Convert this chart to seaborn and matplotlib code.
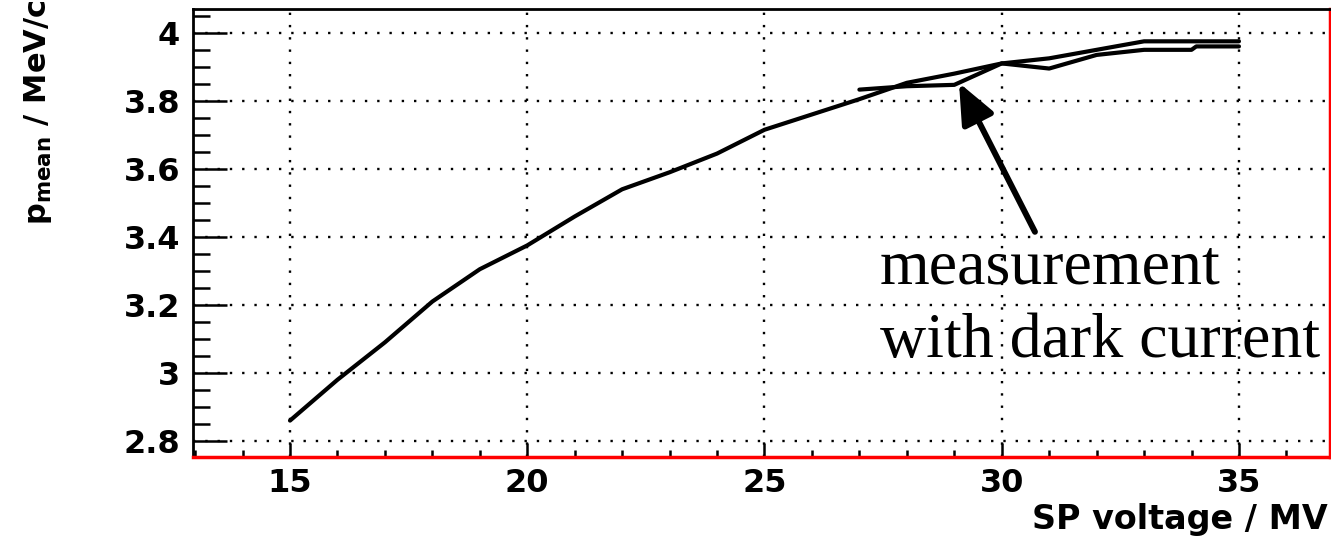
import matplotlib
matplotlib.use('Agg')
from matplotlib import pyplot as plt
from matplotlib.ticker import MultipleLocator, FuncFormatter
import pandas as pd
import seaborn as sns

# SP voltage scan, mean momentum
voltage = [15, 16, 17, 18, 19, 20, 21, 22, 23, 24, 25,
           26, 27, 28, 29, 30, 31, 32, 33, 34, 35]
p_mean = [2.86, 2.98, 3.09, 3.21, 3.305, 3.375, 3.46, 3.54, 3.59, 3.645, 3.715,
          3.76, 3.805, 3.853, 3.88, 3.91, 3.925, 3.95, 3.975, 3.975, 3.975]

# second scan, measurement with dark current
voltage_dark = [27, 28, 29, 30, 31, 32, 33, 34, 34.1, 35]
p_mean_dark = [3.833, 3.843, 3.847, 3.91, 3.895, 3.935, 3.95, 3.95, 3.96, 3.96]

x_ticks = [15, 20, 25, 30, 35]
y_ticks = [2.8, 3.0, 3.2, 3.4, 3.6, 3.8, 4.0]

sns.set_style('white')
plt.rcParams['font.family'] = ['DejaVu Sans']
plt.rcParams['mathtext.fontset'] = 'dejavusans'
plt.rcParams['text.color'] = 'black'
plt.rcParams['xtick.color'] = 'black'
plt.rcParams['ytick.color'] = 'black'

fig = plt.figure(figsize=(13.31, 5.36), dpi=100)
ax = fig.add_axes([0.1448, 0.1474, 0.8545, 0.8358])

df = pd.DataFrame({'voltage': voltage, 'p_mean': p_mean})
df_dark = pd.DataFrame({'voltage': voltage_dark, 'p_mean': p_mean_dark})
sns.lineplot(data=df, x='voltage', y='p_mean', ax=ax, color='black', lw=3,
             estimator=None, sort=False)
sns.lineplot(data=df_dark, x='voltage', y='p_mean', ax=ax, color='black', lw=3,
             estimator=None, sort=False)

ax.set_xlim(12.95, 36.92)
ax.set_ylim(2.753, 4.07)
ax.set_xlabel('')
ax.set_ylabel('')

ax.set_xticks(x_ticks)
ax.set_yticks(y_ticks)
ax.xaxis.set_minor_locator(MultipleLocator(1))
ax.yaxis.set_minor_locator(MultipleLocator(0.05))
fmt = FuncFormatter(lambda v, p: f'{v:g}')
ax.xaxis.set_major_formatter(fmt)
ax.yaxis.set_major_formatter(fmt)

ax.tick_params(axis='both', which='both', direction='in', color='black', width=1.8,
               labelsize=23, labelcolor='black', left=True, bottom=True,
               top=False, right=False)
ax.tick_params(axis='y', which='major', length=24.5, pad=9)
ax.tick_params(axis='y', which='minor', length=12)
ax.tick_params(axis='x', which='major', length=10, pad=8)
ax.tick_params(axis='x', which='minor', length=5)
for lab in ax.get_xticklabels() + ax.get_yticklabels():
    lab.set_fontweight('bold')

ax.grid(True, which='major', color='black', linestyle=(0, (1, 4.2)), lw=1.7)

for s in ['left', 'top']:
    ax.spines[s].set_color('black')
    ax.spines[s].set_linewidth(2)
for s in ['bottom', 'right']:
    ax.spines[s].set_color('red')
    ax.spines[s].set_linewidth(2.5)

# arrow pointing at the dark current curve
ax.annotate('', xy=(29.1, 3.853), xytext=(30.7, 3.415),
            arrowprops=dict(arrowstyle='-|>,head_length=0.7,head_width=0.3',
                            lw=4.3, color='black', mutation_scale=35,
                            shrinkA=0, shrinkB=0))
fig.text(880 / 1331, 1 - 283 / 536, 'measurement', family='Liberation Serif',
         fontsize=46, va='baseline', ha='left', color='black')
fig.text(880 / 1331, 1 - 357 / 536, 'with dark current', family='Liberation Serif',
         fontsize=46, va='baseline', ha='left', color='black')

# axis titles
fig.text(38 / 1331, 1.0, r'$\mathbf{p}_{\mathbf{mean}}$ / MeV/c', rotation=90,
         ha='center', va='top', fontsize=22, fontweight='bold', color='black')
fig.text(1328 / 1331, 1 - 529 / 536, 'SP voltage / MV', ha='right', va='baseline',
         fontsize=24, fontweight='bold', color='black')

plt.savefig('out.png', dpi=100)
